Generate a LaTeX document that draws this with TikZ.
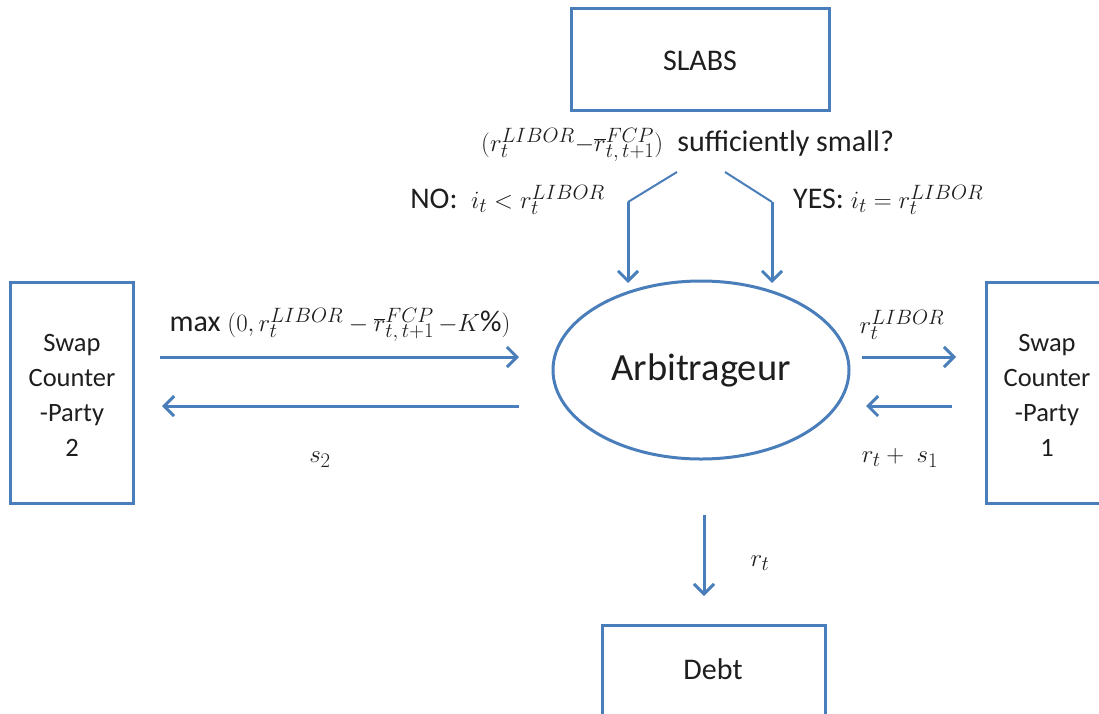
\documentclass[tikz,border=0pt]{standalone}
\usepackage{fontspec}
\setmainfont{Carlito}
\usetikzlibrary{arrows.meta,shapes.geometric}
\definecolor{lineblue}{RGB}{74,126,187}
\definecolor{txt}{RGB}{30,30,30}
\tikzset{
  box/.style={draw=lineblue,line width=3pt,inner sep=0pt},
  flow/.style={draw=lineblue,line width=3pt,-{Straight Barb[length=10pt,width=20pt,line width=3pt]}},
  plain/.style={draw=lineblue,line width=2pt},
  lbl/.style={text=txt,inner sep=0pt,font=\fontsize{30}{35}\selectfont},
  sw/.style={text=txt,inner sep=0pt,align=center,font=\fontsize{26.5}{35}\selectfont},
}
\begin{document}
\begin{tikzpicture}[x=1pt,y=-1pt]
\useasboundingbox (0,0) rectangle (1099,713);
\clip (0,0) rectangle (1099,713);
% boxes
\draw[box] (571,8) rectangle (829,110);
\node[lbl] (slabs) at (700,61) {SLABS};
\draw[box] (10,282) rectangle (133,503);
\node[sw] (sw2) at (72,395) {Swap\\Counter\\-Party\\2};
\draw[box] (986,282) rectangle (1120,503);
\node[sw] (sw1) at (1047,395) {Swap\\Counter\\-Party\\1};
\draw[box] (602,625) rectangle (825,730);
\node[lbl] (debt) at (713,669) {Debt};
% ellipse
\node[draw=lineblue,line width=3pt,ellipse,minimum width=296pt,minimum height=178pt,inner sep=0pt,
  text=txt,font=\fontsize{38.5}{40}\selectfont] (arb) at (701,370) {Arbitrageur};
% question
\node[lbl,anchor=west] (q) at (481,145) {{\fontsize{32}{35}\selectfont$(r_t^{LIBOR}{-}\overline{r}_{t,\,t+1}^{FCP})$}\hspace{14pt}sufficiently small?};
\coordinate (qa) at (677,172);
\coordinate (qb) at (628,202);
\coordinate (qc) at (628,283);
\coordinate (qd) at (725,172);
\coordinate (qe) at (772,202);
\coordinate (qf) at (772,283);
\draw[plain] (qa) -- (qb);
\draw[flow] (qb) -- (qc);
\draw[plain] (qd) -- (qe);
\draw[flow] (qe) -- (qf);
\node[lbl,anchor=east] (no) at (605,200) {NO:\ \ $i_t < r_t^{LIBOR}$};
\node[lbl,anchor=west] (yes) at (793,200) {YES: $i_t = r_t^{LIBOR}$};
% left arrows
\coordinate (l1) at (160,357);
\coordinate (l2) at (519,357);
\coordinate (l3) at (519,406);
\coordinate (l4) at (162,406);
\draw[flow] (l1) -- (l2);
\draw[flow] (l3) -- (l4);
\node[lbl] (maxl) at (340,325) {max $(0, r_t^{LIBOR}-\overline{r}_{t,\,t+1}^{FCP}\,{-}K\%)$};
\node[lbl] (s2) at (320,460) {$s_2$};
% right arrows
\coordinate (r1) at (862,357);
\coordinate (r2) at (956,357);
\coordinate (r3) at (952,406);
\coordinate (r4) at (866,406);
\draw[flow] (r1) -- (r2);
\draw[flow] (r3) -- (r4);
\node[lbl] (rl) at (902,325) {$r_t^{LIBOR}$};
\node[lbl] (rs) at (900,458) {$r_t+\ s_1$};
% down arrow
\coordinate (d1) at (704,515);
\coordinate (d2) at (704,596);
\draw[flow] (d1) -- (d2);
\node[lbl] (rt) at (760,563) {$r_t$};
\end{tikzpicture}
\end{document}
